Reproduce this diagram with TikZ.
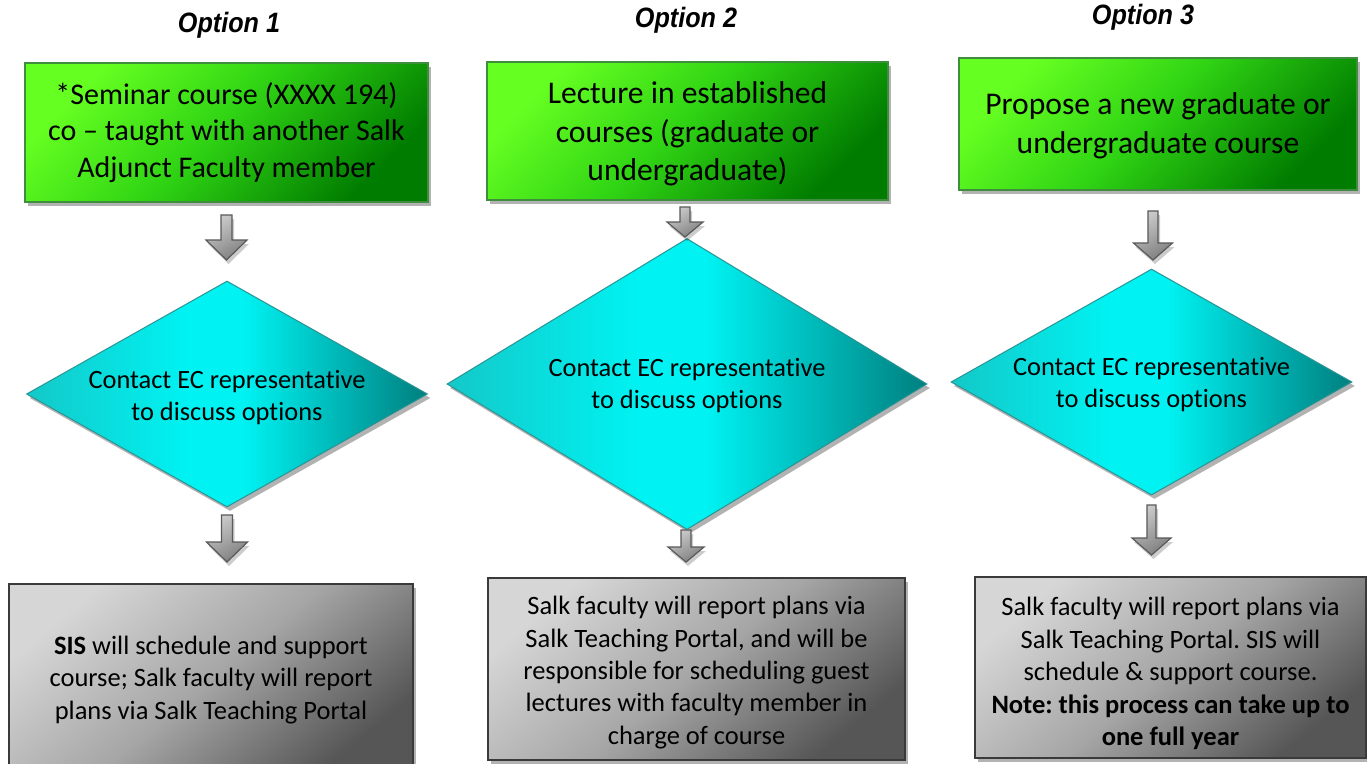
\documentclass[tikz,border=0pt]{standalone}
\usepackage{fontspec}
\usepackage{graphicx}
\setmainfont{Carlito}[Ligatures=NoCommon]
\newfontfamily\titlefont{Liberation Sans}
\usetikzlibrary{shadows,shapes.geometric}
\definecolor{glight}{HTML}{66FF22}
\definecolor{gmid}{HTML}{30D414}
\definecolor{gdark}{HTML}{007C00}
\definecolor{gborder}{HTML}{3E8E3E}
\definecolor{cleft}{HTML}{14C8C8}
\definecolor{cmid}{HTML}{00F2F2}
\definecolor{cright}{HTML}{007F7F}
\definecolor{cborder}{HTML}{2A9494}
\definecolor{slight}{HTML}{D6D6D6}
\definecolor{smid}{HTML}{A6A6A6}
\definecolor{sdark}{HTML}{565656}
\definecolor{sborder}{HTML}{3A3A3A}
\pgfdeclarehorizontalshading{cyanshade}{100bp}{color(0bp)=(cleft); color(25bp)=(cleft); color(45bp)=(cmid); color(52bp)=(cmid); color(75bp)=(cright); color(100bp)=(cright)}
\pgfdeclareverticalshading{greenshade}{100bp}{color(0bp)=(gdark); color(25bp)=(gdark); color(52bp)=(gmid); color(75bp)=(glight); color(100bp)=(glight)}
\pgfdeclareverticalshading{grayshade}{100bp}{color(0bp)=(sdark); color(25bp)=(sdark); color(50bp)=(smid); color(75bp)=(slight); color(100bp)=(slight)}
% lower a centred block of lines without changing the node size
\newcommand\lowered[3]{\raisebox{-#1}[\height][\depth]{\parbox{#2}{\centering #3}}}
\newcommand\blockarrow[6]{%
  \draw[blockarr] (#1-#6,#2) -- (#1+#6,#2) -- (#1+#6,#3-#4) -- (#1+#5,#3-#4)
    -- (#1,#3) -- (#1-#5,#3-#4) -- (#1-#6,#3-#4) -- cycle;}
\tikzset{
  softshadow/.style={drop shadow={shadow xshift=3pt,shadow yshift=-4pt,fill=black,opacity=0.3}},
  titletext/.style={font=\titlefont\bfseries\itshape\fontsize{28}{30}\selectfont},
  greenbox/.style={rectangle,draw=gborder,line width=1.2pt,shading=greenshade,
    shading angle=45,inner sep=0pt,align=center,softshadow},
  cyandia/.style={diamond,draw=cborder,line width=1pt,shading=cyanshade,
    inner sep=0pt,align=center,softshadow,font=\fontsize{26.4}{32}\selectfont},
  graybox/.style={rectangle,draw=sborder,line width=2pt,shading=grayshade,
    shading angle=40,inner sep=0pt,align=center,softshadow,font=\fontsize{26.5}{32.4}\selectfont},
  blockarr/.style={draw=black!65,line width=1.2pt,top color=black!20,bottom color=black!50,
    shading angle=30,drop shadow={shadow xshift=2pt,shadow yshift=-4pt,fill=black,opacity=0.2}},
}
\begin{document}
\frenchspacing
\begin{tikzpicture}[x=1pt,y=-1pt]
\useasboundingbox (0,0) rectangle (1367,763);
\fill[white] (0,0) rectangle (1367,763);
% titles
\node[titletext] (t1) at (229,25) {\scalebox{0.9}[1]{Option 1}};
\node[titletext] (t2) at (686,20) {\scalebox{0.9}[1]{Option 2}};
\node[titletext] (t3) at (1143,17) {\scalebox{0.9}[1]{Option 3}};
% green boxes
\node[greenbox,minimum width=403pt,minimum height=139pt,font=\fontsize{30}{36.6}\selectfont] (g1) at (226.5,132.5)
  {*Seminar course (XXXX 194)\\co -- taught with another Salk\\Adjunct Faculty member};
\node[greenbox,minimum width=401pt,minimum height=138pt,font=\fontsize{31.6}{38.5}\selectfont] (g2) at (687.5,131)
  {\lowered{3pt}{390pt}{Lecture in established\\courses (graduate or\\undergraduate)}};
\node[greenbox,minimum width=398pt,minimum height=132pt,font=\fontsize{31.6}{38.5}\selectfont] (g3) at (1158,124)
  {\lowered{1.5pt}{390pt}{Propose a new graduate or\\undergraduate course}};
% diamonds
\node[cyandia,minimum width=401pt,minimum height=226pt,aspect=1.774] (d1) at (227,394)
  {\lowered{4pt}{300pt}{Contact EC representative\\to discuss options}};
\node[cyandia,minimum width=480pt,minimum height=291pt,aspect=1.649] (d2) at (687,384)
  {\lowered{2pt}{300pt}{Contact EC representative\\to discuss options}};
\node[cyandia,minimum width=401pt,minimum height=226pt,aspect=1.774] (d3) at (1151.5,382)
  {\lowered{3pt}{300pt}{Contact EC representative\\to discuss options}};
% gray boxes
\node[graybox,minimum width=404pt,minimum height=188pt] (s1) at (211,678)
  {\lowered{2pt}{395pt}{\textbf{SIS} will schedule and support\\course; Salk faculty will report\\plans via Salk Teaching Portal}};
\node[graybox,minimum width=417pt,minimum height=182pt] (s2) at (696.5,669)
  {\lowered{3.5pt}{410pt}{Salk faculty will report plans via\\Salk Teaching Portal, and will be\\responsible for scheduling guest\\lectures with faculty member in\\charge of course}};
\node[graybox,minimum width=391pt,minimum height=181pt] (s3) at (1170.5,667.5)
  {\lowered{6pt}{388pt}{Salk faculty will report plans via\\Salk Teaching Portal. SIS will\\schedule \& support course.\\\textbf{Note: this process can take up to}\\\textbf{one full year}}};
% block arrows
\blockarrow{226.5}{215}{260}{20}{20.5}{5.5}
\blockarrow{685}{207}{237}{15}{18}{5}
\blockarrow{1153}{211}{260}{17}{19.5}{5}
\blockarrow{227}{515}{562}{20}{20.5}{5.5}
\blockarrow{686}{530}{562}{15}{18}{5}
\blockarrow{1151.5}{505}{555}{17}{19.5}{4.5}
\end{tikzpicture}
\end{document}
